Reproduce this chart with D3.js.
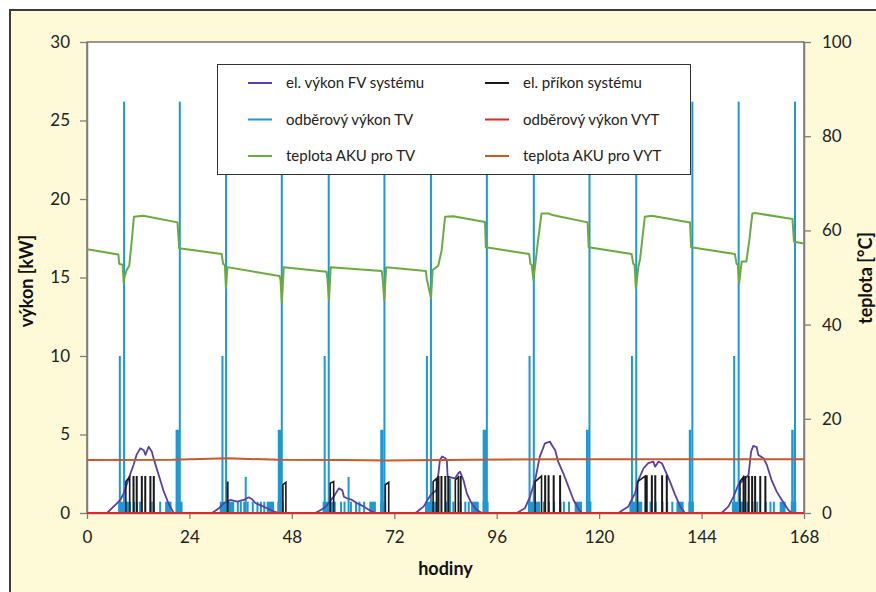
<!DOCTYPE html>
<html>
<head>
<meta charset="utf-8">
<script src="https://cdn.jsdelivr.net/npm/d3@7"></script>
<style>
  body { margin: 0; background: #fff; }
  svg { display: block; font-family: Lato, "Open Sans", sans-serif; }
</style>
</head>
<body>
<svg id="chart" width="876" height="592"></svg>
<script>
// hodiny 0..168, ticks every 24 h
const xTicks = [0, 24, 48, 72, 96, 120, 144, 168];
const yLeftTicks = [0, 5, 10, 15, 20, 25, 30];
const yRightTicks = [0, 20, 40, 60, 80, 100];

const legendLabels = [
    "el. výkon FV systému", "el. příkon systému",
    "odběrový výkon TV", "odběrový výkon VYT",
    "teplota AKU pro TV", "teplota AKU pro VYT"
];

// el. výkon FV systému [h, kW]
const fvVykon = [
    [0, 0], [4.7, 0], [7.0, 0.62], [7.8, 0.83], [8.6, 1.25], [10.2, 2.53], [10.9, 3.06], [11.6, 3.7],
    [12.5, 4.12], [13.3, 4.0], [13.7, 3.7], [14.45, 4.22], [15.2, 3.9], [15.6, 3.48], [16.8, 2.42],
    [18.0, 1.36], [19.1, 0.62], [20.3, 0],
    [29.3, 0], [30.9, 0.3], [32.0, 0.62], [33.6, 0.83], [35.2, 0.72], [36.7, 0.83], [37.9, 1.0],
    [38.7, 0.87], [39.5, 0.62], [40.6, 0.5], [42.2, 0.3], [43.75, 0.1], [44.9, 0],
    [53.5, 0], [55.5, 0.3], [56.6, 0.62], [57.8, 1.04], [59.0, 1.57], [59.8, 1.46], [60.2, 1.04],
    [60.9, 0.94], [62.1, 0.83], [63.3, 0.62], [64.8, 0.42], [66.4, 0.15], [67.6, 0],
    [77.0, 0], [78.9, 0.42], [80.5, 1.15], [81.9, 1.46], [82.7, 3.38], [83.2, 3.6], [83.9, 3.5],
    [84.3, 3.4], [84.5, 2.31], [86.2, 2.2], [87.0, 2.53], [87.4, 2.63], [88.2, 2.1], [89.0, 1.25],
    [90.1, 0.62], [91.3, 0.2], [92.5, 0],
    [100.7, 0], [102.6, 0.3], [103.8, 1.04], [105.0, 2.1], [106.1, 3.59], [107.3, 4.44], [108.5, 4.54],
    [108.9, 4.33], [109.7, 4.0], [110.4, 3.27], [111.6, 2.53], [112.8, 1.68], [114.0, 0.83],
    [115.1, 0.3], [115.9, 0],
    [124.5, 0], [126.85, 0.42], [128.4, 1.25], [129.2, 2.1], [130.4, 2.85], [131.5, 3.17], [132.7, 3.27],
    [133.1, 2.95], [133.9, 3.27], [134.7, 3.17], [135.4, 2.74], [136.6, 2.0], [137.8, 1.15],
    [139.0, 0.42], [140.1, 0],
    [148.7, 0], [150.3, 0.42], [151.5, 1.04], [152.6, 1.8], [153.8, 2.1], [155.0, 2.42], [155.6, 3.9],
    [156.1, 4.27], [156.9, 4.2], [157.3, 3.7], [158.5, 3.48], [159.3, 3.06], [160.4, 2.1],
    [161.6, 1.36], [162.8, 0.83], [164.3, 0.2], [165.1, 0], [168, 0]
];

// el. příkon systému [od h, do h, kW na začátku, kW na konci]
const elPrikon = [
    [9.1, 10.0, 2.0, 2.3], [10.85, 10.95, 2.3, 2.3], [11.6, 11.7, 2.3, 2.3], [12.8, 12.9, 2.3, 2.3],
    [13.6, 13.7, 2.3, 2.3], [14.8, 14.9, 2.3, 2.3], [15.6, 15.7, 2.3, 2.3],
    [32.9, 33.0, 1.95, 1.95], [45.9, 46.6, 1.8, 1.95],
    [57.0, 57.8, 1.9, 2.0], [69.9, 70.7, 1.8, 1.95],
    [81.1, 81.9, 2.0, 2.2], [82.3, 82.4, 2.3, 2.3], [83.0, 83.1, 2.3, 2.3], [83.9, 84.0, 2.3, 2.3],
    [84.6, 84.7, 2.3, 2.3], [86.3, 87.0, 2.1, 2.3], [87.5, 87.6, 2.3, 2.3],
    [105.0, 106.5, 2.0, 2.35], [107.3, 107.4, 2.35, 2.35], [108.1, 108.2, 2.35, 2.35],
    [109.3, 109.4, 2.35, 2.35], [110.8, 110.9, 2.35, 2.35],
    [129.0, 130.8, 2.0, 2.35], [131.1, 131.2, 2.35, 2.35], [132.3, 132.4, 2.35, 2.35],
    [133.1, 133.2, 2.35, 2.35], [134.7, 134.8, 2.35, 2.35], [135.8, 135.9, 2.35, 2.35],
    [153.0, 153.8, 2.0, 2.3], [154.2, 154.3, 2.3, 2.3], [155.0, 155.1, 2.3, 2.3], [155.8, 155.9, 2.3, 2.3],
    [156.5, 156.6, 2.3, 2.3], [157.7, 157.8, 2.3, 2.3], [158.9, 159.0, 2.3, 2.3]
];

// odběrový výkon TV [od h, do h, kW]
const odberTV = [
    [7.4, 10.2, 0.72], [7.55, 7.65, 10.0], [8.55, 8.65, 26.2], [10.9, 11.0, 0.72], [11.6, 11.7, 0.72],
    [12.3, 12.4, 0.72], [14.8, 14.9, 0.72], [15.4, 15.5, 0.72], [17.0, 17.1, 0.72], [18.4, 19.7, 0.72],
    [20.9, 22.3, 0.72], [20.85, 21.45, 5.3], [21.6, 21.7, 26.2],
    [31.2, 34.4, 0.72], [31.6, 31.7, 10.0], [32.45, 32.55, 26.2], [35.2, 35.3, 0.72], [35.9, 36.0, 0.72],
    [36.7, 36.8, 0.72], [37.05, 37.15, 2.3], [37.5, 37.6, 0.72], [38.7, 38.8, 0.72], [39.8, 39.9, 0.72],
    [40.6, 40.7, 0.72], [41.4, 41.5, 0.72], [42.2, 43.75, 0.72], [44.7, 46.0, 0.72], [44.8, 45.4, 5.3],
    [45.5, 45.6, 26.2],
    [55.3, 58.2, 0.72], [55.55, 55.65, 10.0], [56.5, 56.6, 26.2], [59.4, 59.5, 0.72], [60.2, 60.3, 0.72],
    [61.15, 61.25, 2.3], [61.7, 61.8, 0.72], [62.9, 63.0, 0.72], [63.7, 63.8, 0.72], [64.8, 64.9, 0.72],
    [66.25, 67.6, 0.72], [68.8, 70.0, 0.72], [68.8, 69.4, 5.3], [69.55, 69.65, 26.2],
    [79.3, 82.0, 0.72], [79.5, 79.6, 10.0], [80.45, 80.55, 26.2], [84.0, 84.1, 0.72], [84.9, 85.0, 2.2],
    [85.7, 85.8, 0.72], [87.4, 87.5, 0.72], [88.5, 88.6, 0.72], [89.3, 89.4, 0.72], [90.1, 91.7, 0.72],
    [92.8, 94.0, 0.72], [92.8, 93.4, 5.3], [93.55, 93.65, 26.2],
    [103.4, 106.1, 0.72], [103.55, 103.65, 10.0], [104.55, 104.65, 26.2], [106.9, 107.0, 0.72],
    [108.1, 108.2, 0.72], [109.3, 109.4, 0.72], [110.8, 110.9, 0.72], [111.6, 111.7, 0.72],
    [112.8, 112.9, 0.72], [114.35, 115.9, 0.72], [117.0, 118.1, 0.72], [117.0, 117.5, 5.3],
    [117.6, 117.7, 26.2],
    [127.2, 130.0, 0.72], [127.55, 127.65, 10.0], [128.55, 128.65, 26.2], [130.8, 130.9, 0.72],
    [131.9, 132.0, 0.72], [133.1, 133.2, 0.72], [134.7, 134.8, 0.72], [135.8, 135.9, 0.72],
    [137.0, 137.1, 0.72], [138.2, 139.7, 0.72], [141.0, 142.1, 0.72], [141.1, 141.5, 5.3],
    [141.7, 141.8, 26.2],
    [151.2, 153.8, 0.72], [151.5, 151.6, 10.0], [152.55, 152.65, 26.2], [154.6, 154.7, 0.72],
    [155.8, 155.9, 0.72], [156.9, 157.0, 0.72], [158.9, 159.0, 0.72], [160.0, 160.1, 0.72],
    [160.8, 160.9, 0.72], [162.4, 163.6, 0.72], [165.0, 166.1, 0.72], [165.1, 165.5, 5.3],
    [165.75, 165.85, 26.2]
];

// odběrový výkon VYT [h, kW]
const odberVYT = [[0, 0], [168, 0]];

// teplota AKU pro TV [h, °C]
const teplotaTV = [
    [0, 56.0], [7.35, 54.9], [7.55, 52.9], [8.35, 52.7], [8.6, 48.8], [8.75, 50.0], [9.3, 51.6],
    [9.9, 52.5], [10.5, 58.0], [11.0, 62.9], [13.2, 63.1], [21.2, 61.7], [21.6, 56.2],
    [31.55, 55.0], [31.9, 52.9], [32.3, 52.7], [32.55, 47.7], [32.9, 52.2],
    [45.1, 50.3], [45.35, 49.5], [45.65, 44.5], [46.1, 52.2],
    [56.15, 51.2], [56.35, 49.6], [56.7, 45.2], [57.1, 52.2],
    [69.05, 51.4], [69.3, 49.6], [69.65, 45.2], [70.1, 52.2],
    [79.4, 51.4], [79.6, 49.8], [80.6, 45.6], [81.0, 51.6], [82.3, 52.5], [83.1, 55.8], [83.9, 62.9],
    [85.8, 63.0], [93.25, 61.8], [93.45, 56.4],
    [103.6, 55.0], [103.9, 52.9], [104.2, 52.7], [104.6, 49.5], [105.0, 52.5], [105.7, 58.0],
    [106.5, 63.6], [108.1, 63.6], [109.3, 63.2], [117.3, 61.7], [117.55, 56.4],
    [127.6, 55.0], [128.0, 52.9], [128.3, 52.7], [128.6, 47.7], [129.2, 52.3], [129.6, 54.0],
    [130.7, 62.9], [132.3, 63.1], [141.3, 61.7], [141.55, 56.4],
    [151.8, 55.0], [152.2, 52.9], [152.5, 52.7], [152.8, 48.8], [153.4, 53.4], [154.5, 53.4],
    [155.2, 58.0], [155.9, 63.6], [156.5, 63.7], [165.3, 62.4], [165.65, 57.6], [168, 57.2]
];

// teplota AKU pro VYT [h, °C]
const teplotaVYT = [
    [0, 11.25], [20, 11.3], [33, 11.6], [45, 11.3], [60, 11.25], [70, 11.15], [90, 11.3],
    [110, 11.4], [130, 11.4], [150, 11.4], [168, 11.4]
];

const colors = {
    fv: "#5b3fa4", prikon: "#1a1a1a", tv: "#1b98d5",
    vyt: "#e3262b", tTV: "#6aab3e", tVYT: "#c85a28"
};

const svg = d3.select("#chart");

// background frame
svg.append("rect")
    .attr("x", 10).attr("y", 10)
    .attr("width", 900).attr("height", 620)
    .attr("fill", "#fef9d7")
    .attr("stroke", "#3c3c3c")
    .attr("stroke-width", 2);

const plot = {left: 87, right: 804, top: 42, bottom: 513};

svg.append("rect")
    .attr("x", plot.left).attr("y", plot.top)
    .attr("width", plot.right - plot.left).attr("height", plot.bottom - plot.top)
    .attr("fill", "#fff")
    .attr("stroke", "#333")
    .attr("stroke-width", 1);

const x = d3.scaleLinear([0, 168], [plot.left, plot.right]);
const yL = d3.scaleLinear([0, 30], [plot.bottom, plot.top]);
const yR = d3.scaleLinear([0, 100], [plot.bottom, plot.top]);

function styleAxis(g) {
    g.select(".domain").attr("stroke", "#7f7f7f").attr("stroke-width", 1.5);
    g.selectAll(".tick line").attr("stroke", "#7f7f7f").attr("stroke-width", 1.3);
    g.selectAll(".tick text")
        .attr("fill", "#222")
        .style("font-size", "17px")
        .style("font-family", "Lato, sans-serif");
}

svg.append("g")
    .attr("transform", `translate(${plot.left},0)`)
    .call(d3.axisLeft(yL).tickValues(yLeftTicks).tickSize(7).tickPadding(10).tickSizeOuter(0))
    .call(styleAxis);

svg.append("g")
    .attr("transform", `translate(${plot.right},0)`)
    .call(d3.axisRight(yR).tickValues(yRightTicks).tickSize(7).tickPadding(11).tickSizeOuter(0))
    .call(styleAxis);

svg.append("g")
    .attr("transform", `translate(0,${plot.bottom})`)
    .call(d3.axisBottom(x).tickValues(xTicks).tickSize(6).tickPadding(12).tickSizeOuter(0))
    .call(styleAxis);

// odběrový výkon TV - pulses
svg.append("g")
    .selectAll("rect")
    .data(odberTV)
    .join("rect")
    .attr("x", d => x(d[0]) - 0.4)
    .attr("width", d => Math.max(x(d[1]) - x(d[0]), 1.2) + 0.8)
    .attr("y", d => yL(d[2]))
    .attr("height", d => yL(0) - yL(d[2]))
    .attr("fill", colors.tv);

// el. výkon FV systému
const lineL = d3.line().x(d => x(d[0])).y(d => yL(d[1]));
const lineR = d3.line().x(d => x(d[0])).y(d => yR(d[1]));

svg.append("path")
    .attr("d", lineL(fvVykon))
    .attr("fill", "none")
    .attr("stroke", colors.fv)
    .attr("stroke-width", 1.8)
    .attr("stroke-linejoin", "round");

// el. příkon systému
svg.append("path")
    .attr("d", elPrikon.map(d =>
        `M${x(d[0])},${yL(0)}L${x(d[0])},${yL(d[2])}L${x(d[1])},${yL(d[3])}L${x(d[1])},${yL(0)}`).join(""))
    .attr("fill", "none")
    .attr("stroke", colors.prikon)
    .attr("stroke-width", 1.6);

// odběrový výkon VYT
svg.append("path")
    .attr("d", lineL(odberVYT))
    .attr("fill", "none")
    .attr("stroke", colors.vyt)
    .attr("stroke-width", 2);

// teploty
svg.append("path")
    .attr("d", lineR(teplotaTV))
    .attr("fill", "none")
    .attr("stroke", colors.tTV)
    .attr("stroke-width", 2)
    .attr("stroke-linejoin", "round");

svg.append("path")
    .attr("d", lineR(teplotaVYT))
    .attr("fill", "none")
    .attr("stroke", colors.tVYT)
    .attr("stroke-width", 2);

// axis titles
svg.append("text")
    .attr("transform", "translate(33,281) rotate(-90)")
    .attr("text-anchor", "middle")
    .style("font-size", "18px").style("font-weight", "bold")
    .attr("fill", "#111")
    .text("výkon [kW]");

svg.append("text")
    .attr("transform", "translate(872,278) rotate(-90)")
    .attr("text-anchor", "middle")
    .style("font-size", "18px").style("font-weight", "bold")
    .attr("fill", "#111")
    .text("teplota [°C]");

svg.append("text")
    .attr("x", (plot.left + plot.right) / 2).attr("y", 575)
    .attr("text-anchor", "middle")
    .style("font-size", "18px").style("font-weight", "bold")
    .attr("fill", "#111")
    .text("hodiny");

// legend
const legendColors = [colors.fv, colors.prikon, colors.tv, colors.vyt, colors.tTV, colors.tVYT];
const legend = svg.append("g");
legend.append("rect")
    .attr("x", 217.5).attr("y", 64.5)
    .attr("width", 473).attr("height", 110)
    .attr("fill", "#fff")
    .attr("stroke", "#333");

const items = legend.selectAll("g.item")
    .data(legendLabels)
    .join("g")
    .classed("item", true)
    .attr("transform", (d, i) => `translate(${i % 2 ? 485 : 248},${83 + Math.floor(i / 2) * 36.5})`);

items.append("line")
    .attr("x1", 0).attr("x2", 24)
    .attr("stroke", (d, i) => legendColors[i])
    .attr("stroke-width", 2);

items.append("text")
    .attr("x", 38).attr("dy", "0.35em")
    .style("font-size", "15px")
    .attr("fill", "#222")
    .text(d => d);
</script>
</body>
</html>
